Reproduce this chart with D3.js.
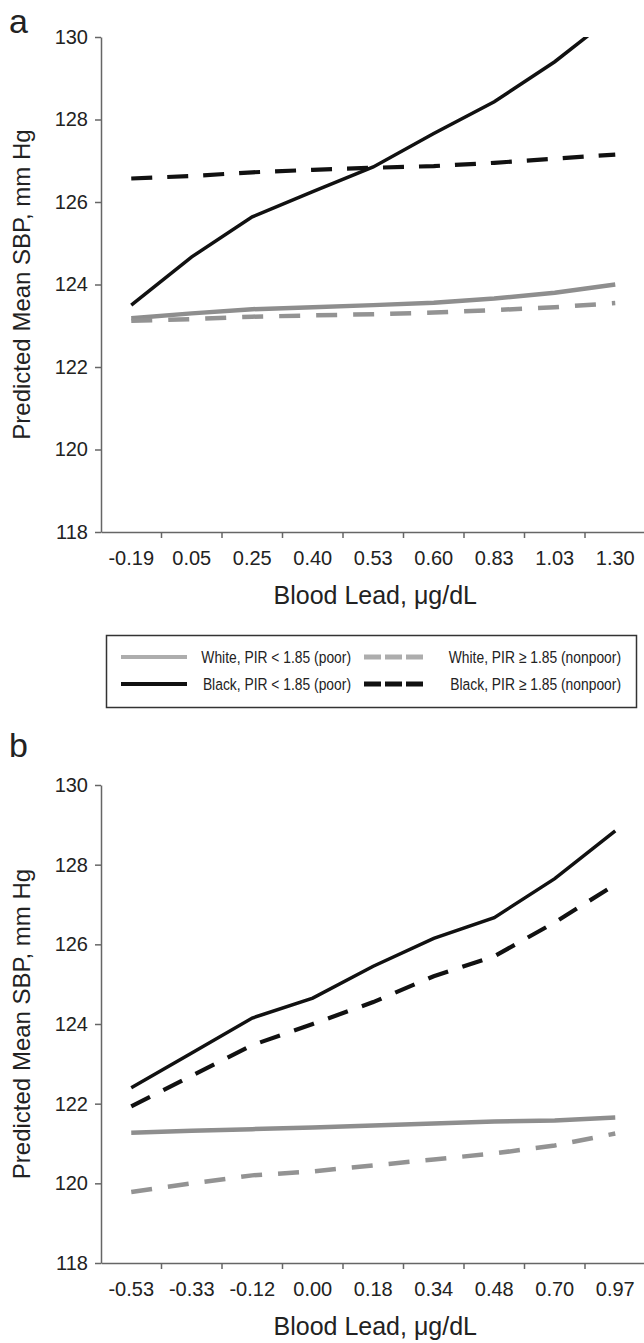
<!DOCTYPE html>
<html>
<head>
<meta charset="utf-8">
<script src="https://cdnjs.cloudflare.com/ajax/libs/d3/7.8.5/d3.min.js"></script>
<style>
  body { margin: 0; background: #fff; }
  svg text { font-family: "Liberation Sans", Arial, sans-serif; fill: #222; }
</style>
</head>
<body>
<div id="chart"></div>
<script>
// panel a: blood lead categories and predicted SBP
var leadA = ["-0.19", "0.05", "0.25", "0.40", "0.53", "0.60", "0.83", "1.03", "1.30"];
var whitePoorA    = [123.18, 123.3, 123.4, 123.45, 123.5, 123.56, 123.66, 123.8, 124.0];
var whiteNonpoorA = [123.12, 123.16, 123.22, 123.25, 123.28, 123.32, 123.38, 123.45, 123.55];
var blackPoorA    = [123.5, 124.67, 125.64, 126.25, 126.85, 127.66, 128.43, 129.4, 130.55];
var blackNonpoorA = [126.57, 126.63, 126.72, 126.78, 126.83, 126.87, 126.95, 127.05, 127.15];

// panel b
var leadB = ["-0.53", "-0.33", "-0.12", "0.00", "0.18", "0.34", "0.48", "0.70", "0.97"];
var whitePoorB    = [121.27, 121.32, 121.36, 121.4, 121.45, 121.5, 121.55, 121.58, 121.65];
var whiteNonpoorB = [119.78, 120.0, 120.2, 120.3, 120.45, 120.6, 120.75, 120.95, 121.25];
var blackPoorB    = [122.4, 123.27, 124.15, 124.65, 125.45, 126.15, 126.67, 127.65, 128.85];
var blackNonpoorB = [121.93, 122.7, 123.47, 124.0, 124.55, 125.2, 125.7, 126.55, 127.5];

var yTicks = [118, 120, 122, 124, 126, 128, 130];

var legendItems = [
  {label: "White, PIR < 1.85 (poor)", color: "#adadad", dash: null},
  {label: "White, PIR \u2265 1.85 (nonpoor)", color: "#adadad", dash: "17,4"},
  {label: "Black, PIR < 1.85 (poor)", color: "#111", dash: null},
  {label: "Black, PIR \u2265 1.85 (nonpoor)", color: "#111", dash: "17,4"}
];

var width = 644, height = 1343;

var svg = d3.select("#chart")
  .append("svg")
    .attr("width", width)
    .attr("height", height);

function drawPanel(id, letter, cats, series, top, bottom, letterY) {
  var left = 101, right = 645.5;

  var x = d3.scaleBand().domain(cats).range([left, right]);
  var y = d3.scaleLinear().domain([118, 130]).range([bottom, top]);

  var g = svg.append("g");

  g.append("text")
    .attr("x", 9)
    .attr("y", letterY)
    .style("font-size", "34px")
    .text(letter);

  g.append("clipPath")
    .attr("id", "clip" + id)
    .append("rect")
      .attr("x", left)
      .attr("y", top)
      .attr("width", right - left)
      .attr("height", bottom - top);

  var line = d3.line()
    .x(function(d, i) { return x(cats[i]) + x.bandwidth() / 2; })
    .y(function(d) { return y(d); });

  var lines = g.append("g").attr("clip-path", "url(#clip" + id + ")");
  series.forEach(function(s) {
    lines.append("path")
      .datum(s.values)
      .attr("fill", "none")
      .attr("stroke", s.color)
      .attr("stroke-width", s.w)
      .attr("stroke-dasharray", s.dash)
      .attr("d", line);
  });

  // y axis
  var yAxis = g.append("g")
    .attr("transform", "translate(" + left + ",0)")
    .call(d3.axisLeft(y).tickValues(yTicks).tickSize(6).tickPadding(7).tickSizeOuter(0));

  // x axis, ticks on the category boundaries
  var xAxis = g.append("g")
    .attr("transform", "translate(0," + bottom + ")")
    .call(d3.axisBottom(x).tickSize(0).tickPadding(19));

  g.append("g")
    .selectAll("line")
    .data(cats.slice(1))
    .enter()
    .append("line")
      .attr("x1", function(d) { return x(d); })
      .attr("x2", function(d) { return x(d); })
      .attr("y1", bottom)
      .attr("y2", bottom + 6)
      .attr("stroke", "#666")
      .attr("stroke-width", 1.5);

  [yAxis, xAxis].forEach(function(a) {
    a.select(".domain").attr("stroke", "#666").attr("stroke-width", 1.5);
    a.selectAll(".tick line").attr("stroke", "#666").attr("stroke-width", 1.5);
    a.selectAll(".tick text")
      .style("font-size", "20px")
      .style("font-family", "\"Liberation Sans\", Arial, sans-serif")
      .attr("fill", "#222");
  });

  g.append("text")
    .attr("transform", "translate(21," + ((top + bottom) / 2) + ") rotate(-90)")
    .attr("text-anchor", "middle")
    .attr("dominant-baseline", "central")
    .style("font-size", "24px")
    .text("Predicted Mean SBP, mm Hg");

  g.append("text")
    .attr("x", (left + right) / 2 + 2)
    .attr("y", bottom + 72)
    .attr("text-anchor", "middle")
    .style("font-size", "25px")
    .text("Blood Lead, \u03bcg/dL");
}

function seriesFor(wp, wn, bp, bn) {
  return [
    {values: wp, color: "#8e8e8e", w: 4.5, dash: null},
    {values: wn, color: "#939393", w: 4.5, dash: "21,16"},
    {values: bn, color: "#111", w: 4.2, dash: "21,15"},
    {values: bp, color: "#111", w: 3.5, dash: null}
  ];
}

drawPanel("a", "a", leadA, seriesFor(whitePoorA, whiteNonpoorA, blackPoorA, blackNonpoorA), 37, 532, 33);
drawPanel("b", "b", leadB, seriesFor(whitePoorB, whiteNonpoorB, blackPoorB, blackNonpoorB), 785, 1263, 757);

// legend box between the panels
var legend = svg.append("g");
legend.append("rect")
  .attr("x", 106.5)
  .attr("y", 635.5)
  .attr("width", 530)
  .attr("height", 72)
  .attr("fill", "none")
  .attr("stroke", "#333")
  .attr("stroke-width", 1.5);

var colX = [{s: 121, e: 187, t: 351}, {s: 364, e: 426, t: 621}];
var rowY = [657, 684];

legendItems.forEach(function(d, i) {
  var c = colX[i % 2], r = rowY[Math.floor(i / 2)];
  legend.append("line")
    .attr("x1", c.s)
    .attr("x2", c.e)
    .attr("y1", r)
    .attr("y2", r)
    .attr("stroke", d.color)
    .attr("stroke-width", d.dash ? 5 : 4)
    .attr("stroke-dasharray", d.dash);
  // squeeze the text sideways, the original uses a condensed face
  legend.append("text")
    .attr("transform", "translate(" + c.t + "," + r + ") scale(0.84,1)")
    .attr("text-anchor", "end")
    .attr("dominant-baseline", "central")
    .style("font-size", "16.5px")
    .text(d.label);
});
</script>
</body>
</html>
